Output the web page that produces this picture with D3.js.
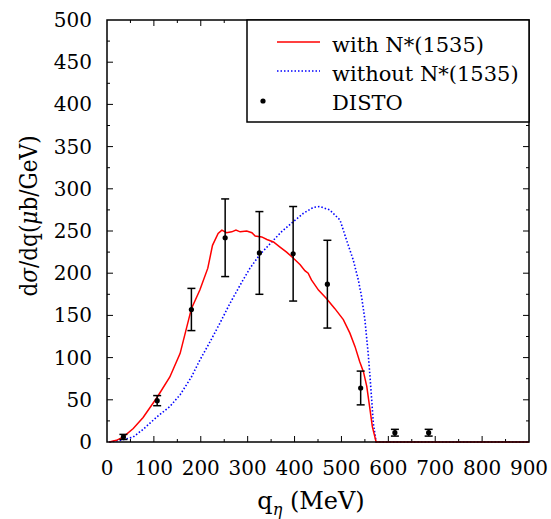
<!DOCTYPE html>
<html>
<head>
<meta charset="utf-8">
<script src="https://cdn.jsdelivr.net/npm/d3@7"></script>
<style>
  html, body { margin: 0; padding: 0; background: #fff; }
  svg { display: block; }
</style>
</head>
<body>
<svg id="chart" width="551" height="519" font-family="DejaVu Serif"></svg>
<script>
// ---- data ----
const withQ   = [5, 20, 35, 56, 77, 107, 134, 156, 180, 198, 215, 225, 237, 245, 255, 266, 275, 284, 298, 309, 316, 330, 341, 355, 369, 383, 397, 412, 422, 429, 436, 451, 468, 486, 504, 518, 529, 539, 547, 554, 561, 566, 574, 900];
const withVal = [0, 2, 6, 16, 29, 53, 77, 105, 158, 180, 206, 233, 247, 251, 248, 249, 251, 249, 250, 248, 244, 243, 240, 237, 231, 225, 218, 210, 203, 200, 192, 180, 170, 158, 145, 129, 113, 95, 83, 66, 38, 18, 0, 0];

const withoutQ   = [5, 30, 56, 77, 107, 134, 156, 180, 198, 220, 241, 262, 284, 305, 326, 348, 372, 397, 419, 440, 454, 475, 497, 511, 525, 536, 543, 550, 557, 561, 565, 568, 574, 900];
const withoutVal = [0, 2, 6, 15, 30, 42, 56, 77, 97, 119, 141, 164, 186, 206, 222, 235, 249, 261, 271, 278, 279, 275, 263, 239, 216, 192, 172, 145, 105, 77, 46, 22, 0, 0];

const distoQ   = [35, 107, 180, 252, 325, 397, 470, 541, 614, 686];
const distoVal = [6, 49, 157, 242, 224, 223, 187, 64, 11, 11];
const distoErr = [3, 6, 25, 46, 49, 56, 52, 20, 4, 4];

const xTicks = [0, 100, 200, 300, 400, 500, 600, 700, 800, 900];
const yTicks = [0, 50, 100, 150, 200, 250, 300, 350, 400, 450, 500];
const legendLabels = ["with N*(1535)", "without N*(1535)", "DISTO"];

// ---- layout ----
const svg = d3.select("#chart");
const L = 107, R = 529, T = 20, B = 442;
const x = d3.scaleLinear().domain([0, 900]).range([L, R]);
const y = d3.scaleLinear().domain([0, 500]).range([B, T]);

const g = svg.append("g");

// ticks (inward, mirrored)
const xMinor = d3.range(50, 900, 100);
const yMinor = d3.range(25, 500, 50);
const tk = g.append("g").attr("stroke", "#000").attr("stroke-width", 1);
xTicks.slice(1, -1).forEach(v => {
  tk.append("line").attr("x1", x(v)).attr("x2", x(v)).attr("y1", B).attr("y2", B - 6);
  tk.append("line").attr("x1", x(v)).attr("x2", x(v)).attr("y1", T).attr("y2", T + 6);
});
xMinor.forEach(v => {
  tk.append("line").attr("x1", x(v)).attr("x2", x(v)).attr("y1", B).attr("y2", B - 3);
  tk.append("line").attr("x1", x(v)).attr("x2", x(v)).attr("y1", T).attr("y2", T + 3);
});
yTicks.slice(1, -1).forEach(v => {
  tk.append("line").attr("y1", y(v)).attr("y2", y(v)).attr("x1", L).attr("x2", L + 6);
  tk.append("line").attr("y1", y(v)).attr("y2", y(v)).attr("x1", R).attr("x2", R - 6);
});
yMinor.forEach(v => {
  tk.append("line").attr("y1", y(v)).attr("y2", y(v)).attr("x1", L).attr("x2", L + 3);
  tk.append("line").attr("y1", y(v)).attr("y2", y(v)).attr("x1", R).attr("x2", R - 3);
});

// tick labels
g.append("g").selectAll("text").data(xTicks).join("text")
  .attr("x", d => x(d)).attr("y", 475)
  .attr("text-anchor", "middle")
  .style("font-size", "20px")
  .text(d => d);
g.append("g").selectAll("text").data(yTicks).join("text")
  .attr("x", 92).attr("y", d => y(d) + 7)
  .attr("text-anchor", "end")
  .style("font-size", "20px")
  .text(d => d);

// curves
const line = d3.line().x(d => x(d[0])).y(d => y(d[1]));
g.append("path")
  .attr("d", line(withoutQ.map((q, i) => [q, withoutVal[i]])))
  .attr("fill", "none").attr("stroke", "#0000ff").attr("stroke-width", 1.6)
  .attr("stroke-dasharray", "1.5,2");
g.append("path")
  .attr("d", line(withQ.map((q, i) => [q, withVal[i]])))
  .attr("fill", "none").attr("stroke", "#ff0000").attr("stroke-width", 1.5);

// data points with error bars
const pts = g.append("g").attr("stroke", "#000").attr("stroke-width", 1.5);
distoQ.forEach((q, i) => {
  const cx = x(q), v = distoVal[i], e = distoErr[i];
  pts.append("line").attr("x1", cx).attr("x2", cx).attr("y1", y(v - e)).attr("y2", y(v + e));
  pts.append("line").attr("x1", cx - 4).attr("x2", cx + 4).attr("y1", y(v - e)).attr("y2", y(v - e));
  pts.append("line").attr("x1", cx - 4).attr("x2", cx + 4).attr("y1", y(v + e)).attr("y2", y(v + e));
  pts.append("circle").attr("cx", cx).attr("cy", y(v)).attr("r", 2.6).attr("fill", "#000").attr("stroke", "none");
});

// frame
g.append("rect").attr("x", L).attr("y", T).attr("width", R - L).attr("height", B - T)
  .attr("fill", "none").attr("stroke", "#000").attr("stroke-width", 1.5);

// legend
const lg = g.append("g");
lg.append("rect").attr("x", 247).attr("y", T).attr("width", R - 247).attr("height", 102)
  .attr("fill", "#fff").attr("stroke", "#000").attr("stroke-width", 1.5);
lg.append("line").attr("x1", 277).attr("x2", 320).attr("y1", 42).attr("y2", 42)
  .attr("stroke", "#ff0000").attr("stroke-width", 1.5);
lg.append("line").attr("x1", 277).attr("x2", 320).attr("y1", 71).attr("y2", 71)
  .attr("stroke", "#0000ff").attr("stroke-width", 1.6).attr("stroke-dasharray", "1.5,2");
lg.append("circle").attr("cx", 263).attr("cy", 101).attr("r", 2.6).attr("fill", "#000");
lg.selectAll("text.lbl").data(legendLabels).join("text")
  .attr("class", "lbl")
  .attr("x", 332).attr("y", (d, i) => 52 + i * 29)
  .style("font-size", "21px")
  .text(d => d);

// axis titles
const xt = g.append("text").attr("x", 311).attr("y", 509).attr("text-anchor", "middle")
  .style("font-size", "24px");
xt.append("tspan").text("q");
xt.append("tspan").attr("dy", 6).style("font-size", "16px").style("font-style", "italic").text("η");
xt.append("tspan").attr("dy", -6).text(" (MeV)");

const yt = g.append("text").attr("transform", "translate(37,216) rotate(-90) scale(0.9,1)")
  .attr("text-anchor", "middle").style("font-size", "24px");
yt.append("tspan").text("d");
yt.append("tspan").style("font-style", "italic").text("σ");
yt.append("tspan").text("/dq(");
yt.append("tspan").style("font-style", "italic").text("μ");
yt.append("tspan").text("b/GeV)");
</script>
</body>
</html>
